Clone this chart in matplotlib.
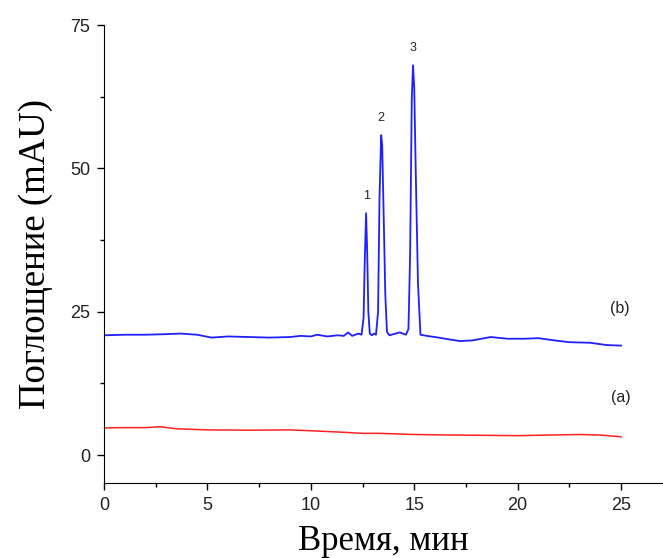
import matplotlib.pyplot as plt
from matplotlib.ticker import MultipleLocator

# trace (b) - sample
t_b = [0, 1.0, 2.0, 3.0, 3.7, 4.5, 5.2, 6.0, 7.0, 8.0, 9.0, 9.5, 10.0, 10.3,
       10.8, 11.3, 11.6, 11.8, 12.0, 12.3, 12.45, 12.55, 12.6, 12.67, 12.72,
       12.78, 12.85, 12.95, 13.05, 13.15, 13.25, 13.32, 13.4, 13.45, 13.52,
       13.6, 13.68, 13.8, 14.0, 14.3, 14.6, 14.72, 14.8, 14.88, 14.94, 15.0,
       15.08, 15.18, 15.3, 15.6, 16.0, 16.5, 17.2, 17.8, 18.7, 19.5, 20.3,
       21.0, 21.8, 22.5, 23.5, 24.3, 25.0]
y_b = [20.9, 21.0, 21.0, 21.1, 21.2, 21.0, 20.5, 20.7, 20.6, 20.5, 20.6, 20.8,
       20.7, 21.0, 20.7, 20.9, 20.8, 21.4, 20.8, 21.2, 21.0, 24.0, 33.0, 42.2,
       36.0, 25.0, 21.2, 20.9, 21.2, 21.0, 25.0, 45.0, 55.8, 54.0, 42.0, 28.0,
       21.5, 20.9, 21.1, 21.4, 21.0, 22.0, 35.0, 62.0, 68.0, 64.0, 48.0, 30.0,
       21.0, 20.8, 20.6, 20.3, 19.9, 20.0, 20.6, 20.3, 20.3, 20.4, 20.0, 19.7,
       19.6, 19.2, 19.1]

# trace (a) - blank
t_a = [0, 1.0, 2.0, 2.7, 3.5, 5.0, 7.0, 9.0, 10.0, 11.5, 12.5, 13.3, 15.0,
       17.0, 20.0, 21.5, 23.0, 24.0, 25.0]
y_a = [4.75, 4.8, 4.8, 4.95, 4.6, 4.4, 4.35, 4.4, 4.25, 4.0, 3.8, 3.8, 3.6,
       3.5, 3.4, 3.5, 3.6, 3.5, 3.2]

peak_labels = ['1', '2', '3']
peak_t = [12.67, 13.4, 14.94]
peak_y = [42.2, 55.8, 68.0]

fig = plt.figure(figsize=(6.63, 5.58), dpi=100)
ax = fig.add_axes([0.157, 0.134, 0.843, 0.821])

ax.plot(t_b, y_b, color='#1f1fff', lw=1.3)
ax.plot(t_a, y_a, color='#ff2020', lw=1.1)

for lab, x, y in zip(peak_labels, peak_t, peak_y):
    ax.text(x, y + 2.0, lab, ha='center', va='bottom', fontsize=9,
            family='Liberation Sans', color='#222222')

ax.text(24.95, 25.5, '(b)', ha='center', va='center', fontsize=11.5,
        family='Liberation Sans', color='#222222')
ax.text(25.0, 10.1, '(a)', ha='center', va='center', fontsize=11.5,
        family='Liberation Sans', color='#222222')

ax.set_xlim(0, 27.03)
ax.set_ylim(-4.9, 75)
ax.spines['top'].set_visible(False)
ax.spines['right'].set_visible(False)
ax.spines['left'].set_bounds(-4.9, 75)

ax.xaxis.set_major_locator(MultipleLocator(5))
ax.xaxis.set_minor_locator(MultipleLocator(2.5))
ax.yaxis.set_major_locator(MultipleLocator(25))
ax.yaxis.set_minor_locator(MultipleLocator(12.5))
ax.tick_params(which='major', direction='out', length=5, width=1,
               labelsize=13, pad=5)
ax.tick_params(which='minor', direction='out', length=3, width=1)
for lbl in ax.get_xticklabels() + ax.get_yticklabels():
    lbl.set_family('Liberation Sans')
    lbl.set_color('#222222')

ax.set_xlabel('Время, мин', family='Liberation Serif', fontsize=25,
              labelpad=8)
ax.set_ylabel('Поглощение (mAU)', family='Liberation Serif', fontsize=26.5,
              labelpad=12)

fig.savefig('out.png', dpi=100)
